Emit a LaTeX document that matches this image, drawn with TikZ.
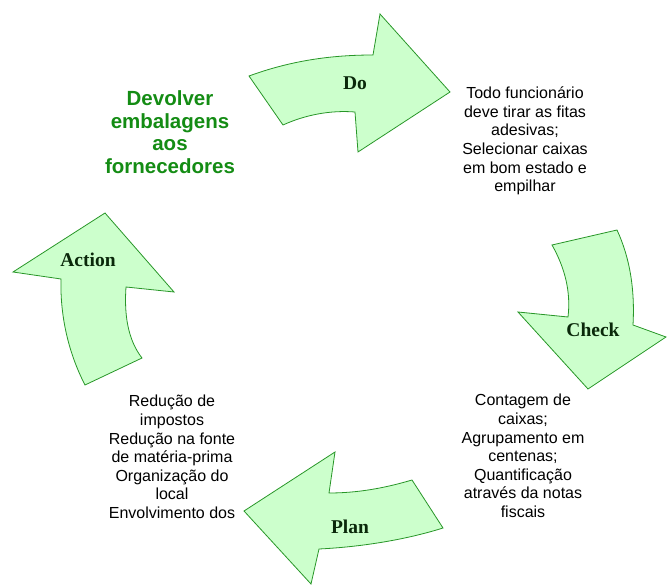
\documentclass[tikz,border=0pt]{standalone}
\usepackage{fontspec}
\setmainfont{Liberation Sans}
\newfontfamily\labelfont{Liberation Serif}
\usepackage{tikz}
\usetikzlibrary{positioning}

\definecolor{arrowfill}{RGB}{204,255,204}
\definecolor{arrowdraw}{RGB}{40,150,40}
\definecolor{titlegreen}{RGB}{20,140,20}
\definecolor{labeldark}{RGB}{10,40,10}

\begin{document}
\begin{tikzpicture}[x=1pt, y=-1pt,
        arrowshape/.style={draw=arrowdraw, fill=arrowfill, line width=0.8pt, line join=miter},
        stepname/.style={font=\labelfont\bfseries\fontsize{19.5}{21}\selectfont, text=labeldark, inner sep=0pt},
        textnode/.style={align=center, inner sep=0pt, font=\fontsize{16}{18.6}\selectfont},
        titlenode/.style={align=center, inner sep=0pt, text=titlegreen, font=\bfseries\fontsize{20.5}{22.5}\selectfont}]

        \useasboundingbox (0,0) rectangle (667,585);

        % Do
        \draw[arrowshape] (249,76) .. controls (290,61) and (330,55) .. (373,55) -- (380,14) -- (450,92)
            -- (358,152) -- (355,112) .. controls (330,110) and (305,115) .. (283,125) -- cycle;
        % Check
        \draw[arrowshape] (552,245) .. controls (565,268) and (571,292) .. (568,317) -- (518,312) -- (588,389)
            -- (666,337) -- (633,325) .. controls (635,290) and (630,258) .. (617,230) -- cycle;
        % Plan
        \draw[arrowshape] (412,480) .. controls (385,488) and (358,493) .. (329,493) -- (335,452) -- (244,511)
            -- (311,584) -- (319,549) .. controls (360,547) and (405,540) .. (443,528) -- cycle;
        % Action
        \draw[arrowshape] (85,385) .. controls (68,352) and (60,315) .. (61,279) -- (13,272) -- (105,213)
            -- (174,292) -- (126,287) .. controls (124,315) and (128,340) .. (142,358) -- cycle;

        \node[stepname] (do) at (355,83) {Do};
        \node[stepname] (check) at (593,330) {Check};
        \node[stepname] (plan) at (350,527) {Plan};
        \node[stepname] (action) at (88,260) {Action};

        \node[titlenode] (goal) at (170,132) {Devolver\\embalagens\\aos\\fornecedores};
        \node[textnode] (dotext) at (525,141) {Todo funcionário\\deve tirar as fitas\\adesivas;\\Selecionar caixas\\em bom estado e\\empilhar};
        \node[textnode] (checktext) at (523,456) {Contagem de\\caixas;\\Agrupamento em\\centenas;\\Quantificação\\através da notas\\fiscais};
        \node[textnode] (actiontext) at (172,457) {Redução de\\impostos\\Redução na fonte\\de matéria-prima\\Organização do\\local\\Envolvimento dos};

        \end{tikzpicture}
\end{document}
